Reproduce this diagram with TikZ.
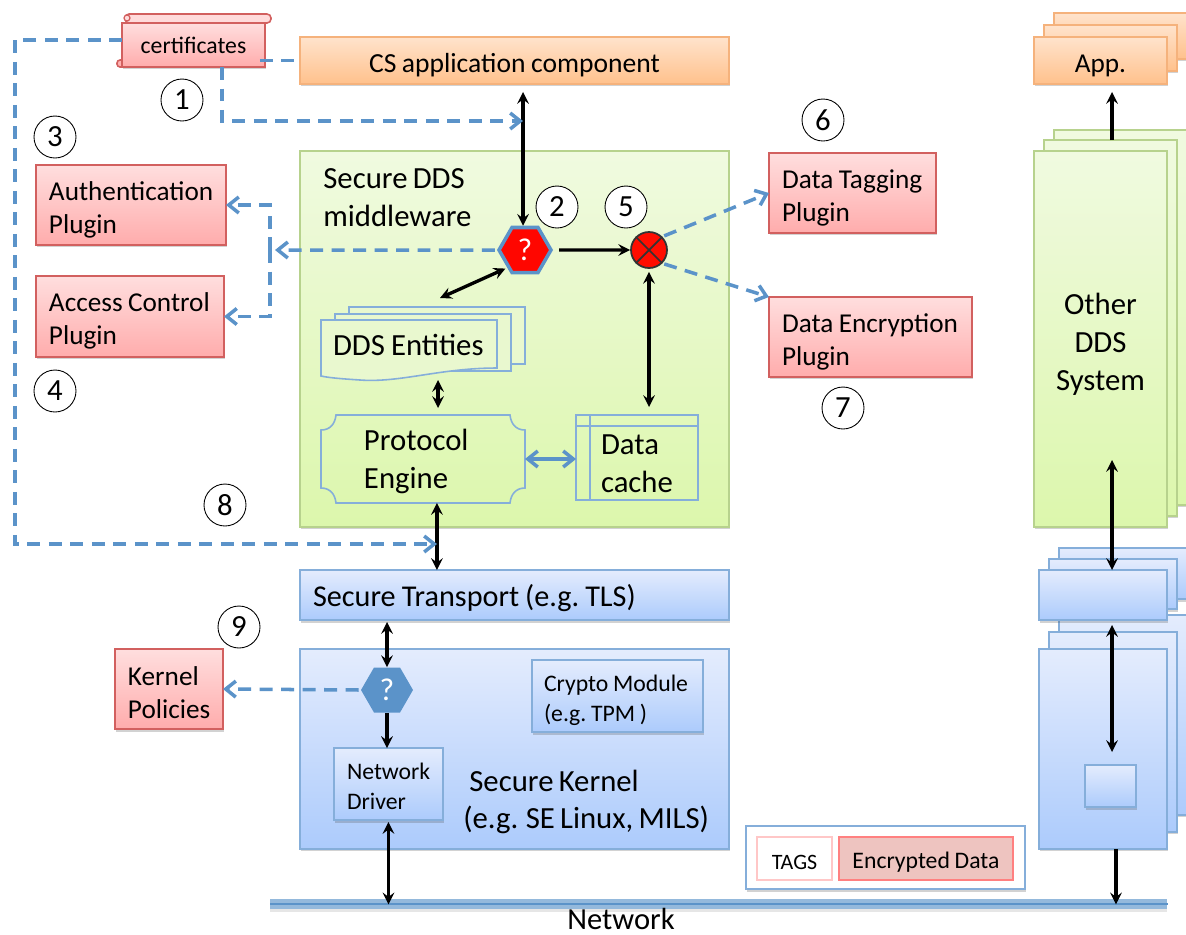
\documentclass[tikz,border=0pt]{standalone}
\usepackage{fontspec}
\setmainfont{Carlito}[WordSpace=0.75]
\usepackage{tikz}
\usetikzlibrary{shapes,arrows,arrows.meta,positioning,shadows}

\definecolor{dashblue}{HTML}{5B93C9}
\definecolor{redline}{HTML}{D2605F}
\definecolor{blueline}{HTML}{85AEDA}
\definecolor{greenline}{HTML}{B7D28D}
\definecolor{orangeline}{HTML}{F5B27C}
\definecolor{ddsfill}{HTML}{E9F8CF}

\tikzset{
  x=0.02cm, y=-0.02cm,
  softshadow/.style={drop shadow={shadow xshift=.02cm, shadow yshift=-.05cm, opacity=.25, fill=black!70}},
  lowtext/.code={\def\lowh{#1}},
  lowrule/.style={execute at begin node={\spaceskip=.2em\relax\xspaceskip=.2em\relax\rule{0pt}{\lowh}}},
  bodyfont/.style={font=\fontsize{15.5}{18.7}\selectfont},
  labelfont/.style={font=\fontsize{17.5}{21.5}\selectfont},
  smallfont/.style={font=\fontsize{13.5}{17}\selectfont},
  plainbox/.style={rectangle, draw, line width=.9pt, anchor=north west, inner xsep=.26cm, inner ysep=0pt, outer sep=0pt,
    align=left, softshadow, bodyfont, lowtext=16pt, lowrule},
  redbox/.style={plainbox, draw=redline, top color={rgb,255:red,255;green,222;blue,222}, bottom color={rgb,255:red,255;green,172;blue,172}},
  orangebox/.style={plainbox, draw=orangeline, top color={rgb,255:red,255;green,227;blue,204}, bottom color={rgb,255:red,255;green,193;blue,140}},
  greenbox/.style={plainbox, draw=greenline, top color={rgb,255:red,240;green,250;blue,224}, bottom color={rgb,255:red,220;green,247;blue,172}},
  bluebox/.style={plainbox, draw=blueline, top color={rgb,255:red,228;green,236;blue,253}, bottom color={rgb,255:red,172;green,203;blue,252}},
  sketchline/.style={draw=blueline, line width=.9pt},
  sketchfill/.style={sketchline, fill=ddsfill},
  numcirc/.style={circle, draw, line width=.5pt, fill=white, minimum size=.84cm, inner sep=0pt, font=\fontsize{17.5}{17.5}\selectfont},
  hexq/.style={regular polygon, regular polygon sides=6, minimum size=1.04cm, inner sep=0pt, text=white, font=\fontsize{18}{18}\selectfont},
  biarrow/.style={<->, >=stealth, line width=1.9pt},
  onearrow/.style={->, >=stealth, line width=1.9pt},
  dashline/.style={->, >={Straight Barb[length=.2cm, width=.32cm, line width=2pt]}, draw=dashblue, line width=2pt, dash pattern=on .26cm off .17cm},
  dashplain/.style={draw=dashblue, line width=2pt, dash pattern=on .26cm off .17cm},
  solidblue/.style={<->, >={Straight Barb[length=.2cm, width=.32cm, line width=2pt]}, draw=dashblue, line width=2pt},
  textlabel/.style={anchor=west, align=left, inner sep=0pt, labelfont},
}

\begin{document}
\begin{tikzpicture}
\path[use as bounding box, clip] (0,0) rectangle (1186,934);

% Draw other system stack
\node (appc) [orangebox, minimum width=2.8cm, minimum height=.92cm] at (1054,13) {};
\node (appb) [orangebox, minimum width=2.66cm, minimum height=.92cm] at (1044,25) {};
\node (appa) [orangebox, minimum width=2.66cm, minimum height=.94cm, align=center] at (1034,37) {App.};
\node (otherc) [greenbox, minimum width=2.8cm, minimum height=7.5cm] at (1054,130) {};
\node (otherb) [greenbox, minimum width=2.66cm, minimum height=7.52cm] at (1044,140) {};
\node (othera) [greenbox, text width=2.14cm, minimum height=7.52cm, align=center, labelfont, lowtext=18pt] at (1034,151) {Other\\DDS\\System};
\node (rtlsc) [bluebox, minimum width=2.7cm, minimum height=1.02cm] at (1059,548) {};
\node (rtlsb) [bluebox, minimum width=2.56cm, minimum height=1cm] at (1049,559) {};
\node (rkernc) [bluebox, minimum width=2.7cm, minimum height=4cm] at (1059,615) {};
\node (rkernb) [bluebox, minimum width=2.56cm, minimum height=4cm] at (1049,632) {};
\node (rkerna) [bluebox, minimum width=2.56cm, minimum height=4cm] at (1039,649) {};
\node (rtlsa) [bluebox, minimum width=2.56cm, minimum height=1cm] at (1039,570) {};
\node (rsmall) [bluebox, minimum width=1.02cm, minimum height=.84cm] at (1085,765) {};

% Draw main boxes
\node (cs) [orangebox, minimum width=8.58cm, minimum height=.94cm, align=center, font=\fontsize{15.7}{18.7}\selectfont] at (300,37) {CS application component};
\node (dds) [greenbox, minimum width=8.58cm, minimum height=7.52cm] at (300,151) {};
\node (tls) [bluebox, text width=8.06cm, minimum height=1cm, font=\fontsize{17.2}{20}\selectfont] at (300,570) {Secure Transport (e.g. TLS)};
\node (kernel) [bluebox, minimum width=8.58cm, minimum height=4cm] at (300,649) {};
\node (crypto) [bluebox, text width=2.94cm, minimum height=1.44cm, inner xsep=.24cm, smallfont, lowtext=14pt] at (532,660) {Crypto Module\\(e.g. TPM )};
\node (driver) [bluebox, text width=1.66cm, minimum height=1.44cm, smallfont, lowtext=12pt] at (334,748) {Network\\Driver};

% Draw plugins
\node (auth) [redbox, text width=3.28cm, minimum height=1.6cm] at (36,165) {Authentication\\Plugin};
\node (access) [redbox, text width=3.24cm, minimum height=1.62cm] at (36,276) {\mbox{Access Control}\\Plugin};
\node (tagging) [redbox, text width=2.82cm, minimum height=1.6cm] at (769,153) {\mbox{Data Tagging}\\Plugin};
\node (encryption) [redbox, text width=3.54cm, minimum height=1.6cm] at (769,297) {\mbox{Data Encryption}\\Plugin};
\node (policies) [redbox, text width=1.64cm, minimum height=1.6cm, lowtext=14.5pt] at (115,649) {Kernel\\Policies};

% Draw certificates scroll
\draw[draw=redline, line width=.9pt, fill=red!14, rounded corners=.08cm] (125,14) rectangle (271,23);
\draw[draw=redline, line width=.9pt, fill=red!30, rounded corners=.06cm] (117,60) rectangle (160,67);
\node (cert) [redbox, minimum width=2.86cm, minimum height=.88cm, align=center, smallfont, lowtext=0pt] at (122,23) {certificates};
\draw[draw=redline, line width=.7pt, fill=red!14] (127,18) circle (.06cm);

% Draw DDS contents
\node (ddslabel) [textlabel] at (323,198) {Secure DDS\\middleware};
\draw[sketchfill] (349,307) rectangle (525,364);
\draw[sketchfill] (335,314) rectangle (511,371);
\draw[sketchfill] (321,320) -- (497,320) -- (497,368) .. controls (440,368) and (400,383) .. (360,380) .. controls (345,379) and (330,378) .. (321,376) -- cycle;
\node (entities) [rectangle, anchor=north west, inner xsep=.24cm, inner ysep=0pt, outer sep=0pt, minimum height=1cm, text width=3.04cm, align=left, labelfont, lowtext=0pt, lowrule] at (321,320) {\mbox{DDS Entities}};
\draw[sketchline] (336,415) -- (510,415) .. controls (511,424) and (516,430) .. (525,430) -- (525,488) .. controls (516,488) and (511,494) .. (510,503)
  -- (336,503) .. controls (335,494) and (330,488) .. (321,488) -- (321,430) .. controls (330,430) and (335,424) .. (336,415) -- cycle;
\node (engine) [rectangle, anchor=north west, inner xsep=.86cm, inner ysep=0pt, outer sep=0pt, minimum height=1.76cm, text width=2.36cm, align=left, labelfont, lowtext=15pt, lowrule] at (321,415) {Protocol\\Engine};
\node (cache) [rectangle, sketchline, anchor=north west, inner xsep=.5cm, inner ysep=0pt, outer sep=0pt, minimum height=1.7cm, text width=1.44cm, align=left, labelfont, lowtext=18pt, lowrule] at (576,415) {Data\\cache};
\draw[sketchline] (576,426) -- (698,426);
\draw[sketchline] (590,415) -- (590,500);

% Draw decision points
\node (hexa) [hexq, fill=red!95!orange, draw=dashblue, line width=2pt] at (525,250) {?};
\node (hexb) [hexq, fill=dashblue] at (387,690) {?};
\node (xor) [circle, draw=black!80, line width=1pt, fill=red!90!orange, minimum size=.72cm, inner sep=0pt] at (649,250) {};
\draw[black!80, line width=1pt] (xor.north west) -- (xor.south east);
\draw[black!80, line width=1pt] (xor.north east) -- (xor.south west);
\node (skl) [textlabel] at (463,802) {\hspace*{.12cm}Secure Kernel\\(e.g. SE Linux, MILS)};

% Draw network and legend
\node (bar) [rectangle, anchor=north west, fill=dashblue!65, minimum width=17.94cm, minimum height=.2cm, inner sep=0pt, drop shadow={shadow xshift=0cm, shadow yshift=-.06cm, opacity=.2}] at (270,899) {};
\draw[dashblue, line width=1.2pt] (bar.west) -- (bar.east);
\node (netlabel) [inner sep=0pt, font=\fontsize{17.4}{20}\selectfont] at (621,919) {Network};
\node (legend) [rectangle, anchor=north west, draw=blueline, line width=1pt, fill=white, minimum width=5.58cm, minimum height=1.26cm, outer sep=0pt, softshadow] at (746,826) {};
\node (tags) [rectangle, anchor=north west, draw=red!22, line width=.8pt, fill=white, minimum width=1.5cm, minimum height=.86cm, inner sep=0pt, outer sep=0pt, font=\fontsize{12.5}{16}\selectfont, lowtext=13pt, lowrule] at (757,837) {TAGS};
\node (encdata) [rectangle, anchor=north west, draw=red!50!white, line width=.9pt, fill={rgb,255:red,238;green,196;blue,192}, minimum width=3.48cm, minimum height=.86cm, inner sep=0pt, outer sep=0pt, smallfont, lowtext=13pt, lowrule] at (839,837) {Encrypted Data};

% Draw numbers
\node (one) [numcirc] at (182,100) {1};
\node (two) [numcirc] at (557,207) {2};
\node (three) [numcirc] at (55,137) {3};
\node (four) [numcirc] at (55,391) {4};
\node (five) [numcirc] at (626,207) {5};
\node (six) [numcirc] at (823,120) {6};
\node (seven) [numcirc] at (843,408) {7};
\node (eight) [numcirc] at (225,505) {8};
\node (nine) [numcirc] at (239,627) {9};

% Draw free ends
\coordinate (busnw) at (15,40);
\coordinate (tlstip) at (437,544);
\coordinate (certdrop) at (222,67);
\coordinate (cstip) at (523,121);
\coordinate (midbus) at (270,250);
\coordinate (midtip) at (275,250);
\coordinate (ddstip) at (440,298);
\coordinate (ddsdown) at (438,380);
\coordinate (rcol) at (1112,0);
\coordinate (rcolb) at (1116,0);
\coordinate (othertip) at (1112,460);

% Draw black connectors
\draw[biarrow, shorten >=.16cm] ([xshift=-.04cm]hexa.north) -- ([xshift=-.04cm]hexa.north |- cs.south);
\draw[onearrow, shorten <=.12cm] (hexa.east) -- (xor.west);
\draw[biarrow, shorten <=.04cm] (hexa.south west) -- (ddstip);
\draw[biarrow, shorten >=.14cm] (ddsdown) -- (ddsdown |- engine.north);
\draw[biarrow, shorten <=.06cm, shorten >=.16cm] (xor.south) -- (xor.south |- cache.north);
\draw[biarrow] ([xshift=.28cm]engine.south) -- ([xshift=.28cm]engine.south |- tls.north);
\draw[biarrow, shorten >=.04cm] (hexb.north) -- (hexb.north |- tls.south);
\draw[onearrow] (hexb.south) -- (hexb.south |- driver.north);
\draw[biarrow, shorten <=.04cm] (driver.south) -- (driver.south |- bar.center);
\draw[onearrow, shorten >=.16cm] (rcol |- otherb.north) -- (rcol |- appa.south);
\draw[biarrow] (othertip) -- (rcol |- rtlsa.north);
\draw[biarrow, shorten <=.1cm, shorten >=.26cm] (rcol |- rtlsa.south) -- (rcol |- rsmall.north);
\draw[onearrow] (rcolb |- rkerna.south) -- (rcolb |- bar.center);

% Draw dashed connectors
\draw[dashline] (cert.west |- busnw) -- (busnw) |- (tlstip);
\draw[dashplain] ([xshift=-.1cm]cs.west -| cert.east) -- (cs.west);
\draw[dashline] (certdrop) |- (cstip);
\draw[dashline, shorten <=.04cm] (hexa.west) -- (midtip);
\draw[dashline] (midbus) |- (auth.east);
\draw[dashline] (midbus) |- (access.east);
\draw[dashline, shorten <=.04cm] (xor.north east) -- (tagging.west);
\draw[dashline, shorten <=.04cm] (xor.south east) -- (encryption.north west);
\draw[dashline, shorten <=.04cm] (hexb.west) -- (policies.east);
\draw[solidblue] (engine.east) -- (engine.east -| cache.west);
\end{tikzpicture}
\end{document}
